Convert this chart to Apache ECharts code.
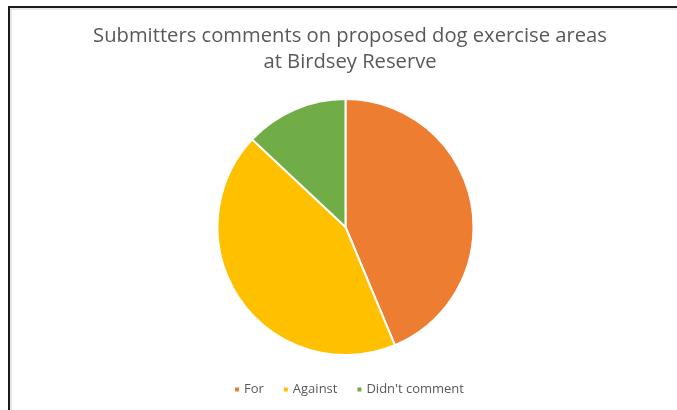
<!DOCTYPE html>
<html><head><meta charset="utf-8">
<script src="https://cdn.jsdelivr.net/npm/echarts@6/dist/echarts.min.js"></script>
<style>html,body{margin:0;padding:0;background:#fff}#c{width:677px;height:410px}</style>
</head><body><div id="c"></div>
<script>
const categories = ["For", "Against", "Didn't comment"];
const values = [43.7, 43.3, 13.0];
const colors = ["#ED7D31", "#FFC000", "#70AD47"];
const titleText = "Submitters comments on proposed dog exercise areas\nat Birdsey Reserve";

const chart = echarts.init(document.getElementById('c'), null, {renderer: 'canvas'});
chart.setOption({
  animation: false,
  backgroundColor: '#fff',
  title: {
    text: titleText,
    left: 345, top: 18, textAlign: 'center',
    textStyle: {fontFamily: 'Open Sans', fontWeight: 'normal', fontSize: 20.2, color: '#595959', lineHeight: 26}
  },
  legend: {
    data: categories,
    bottom: 9, left: 228,
    icon: 'rect', itemWidth: 6, itemHeight: 6, itemGap: 18,
    textStyle: {fontFamily: 'Open Sans', fontSize: 13, color: '#595959', padding: [0, 0, 0, -1]}
  },
  graphic: [
    {type: 'line', shape: {x1: 9, y1: 7, x2: 677, y2: 7}, style: {stroke: '#1a1a1a', lineWidth: 2}},
    {type: 'line', shape: {x1: 9, y1: 6, x2: 9, y2: 410}, style: {stroke: '#1a1a1a', lineWidth: 2}},
    {type: 'line', shape: {x1: 11, y1: 9, x2: 677, y2: 9}, style: {stroke: '#d0d0d0', lineWidth: 1}},
    {type: 'line', shape: {x1: 11, y1: 9, x2: 11, y2: 410}, style: {stroke: '#d0d0d0', lineWidth: 1}}
  ],
  series: [{
    type: 'pie',
    center: [345.5, 227],
    radius: [0, 128],
    startAngle: 90,
    clockwise: true,
    label: {show: false},
    labelLine: {show: false},
    itemStyle: {borderColor: '#fff', borderWidth: 2},
    emphasis: {disabled: true},
    data: categories.map((n, i) => ({name: n, value: values[i], itemStyle: {color: colors[i]}}))
  }]
});
</script></body></html>
